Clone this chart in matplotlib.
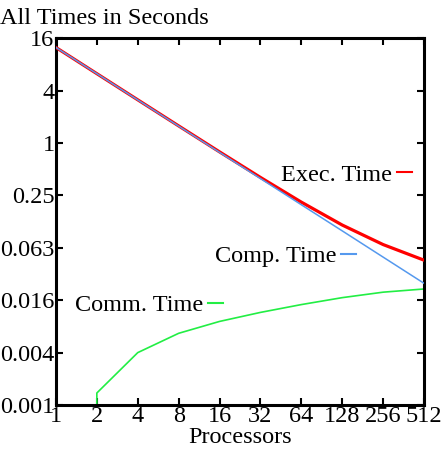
import matplotlib
matplotlib.use('Agg')
import matplotlib.pyplot as plt
from matplotlib.lines import Line2D
from matplotlib.legend import Legend
from matplotlib.ticker import FixedLocator, FixedFormatter, NullLocator

plt.rcParams['font.family'] = ['Liberation Serif', 'DejaVu Serif']

# ── data ────────────────────────────────────────────────────────────────────────
processors = [1, 2, 4, 8, 16, 32, 64, 128, 256, 512]
exec_time  = [12.5, 6.25, 3.13, 1.57, 0.79, 0.402, 0.209, 0.114, 0.068, 0.045]
comp_time  = [12.5, 6.25, 3.12, 1.56, 0.78, 0.39, 0.195, 0.0977, 0.0488, 0.0244]
comm_time  = [0.0, 0.00134, 0.0039, 0.0065, 0.0089, 0.0113, 0.0139, 0.0167, 0.0193, 0.021]

x_ticks  = [1, 2, 4, 8, 16, 32, 64, 128, 256, 512]
y_ticks  = [4.0 ** k for k in range(-5, 3)]
y_labels = ['0.001', '0.004', '0.016', '0.063', '0.25', '1', '4', '16']

RED   = '#ff0000'
BLUE  = '#5599ee'
GREEN = '#22ee44'
FS    = 17.5

fig = plt.figure(figsize=(4.44, 4.54), dpi=100)
ax = fig.add_axes([0.126, 0.108, 0.829, 0.808])

ax.set_xscale('log', base=2)
ax.set_yscale('log', base=4, nonpositive='clip')

l_exec, = ax.plot(processors, exec_time, color=RED, lw=2.3, zorder=3)
l_comp, = ax.plot(processors, comp_time, color=BLUE, lw=1.1, zorder=4)
l_comm, = ax.plot(processors, comm_time, color=GREEN, lw=1.2, zorder=2)

ax.set_xlim(1, 512)
ax.set_ylim(4.0 ** -5, 16)

ax.xaxis.set_major_locator(FixedLocator(x_ticks))
ax.xaxis.set_major_formatter(FixedFormatter([str(t) for t in x_ticks]))
ax.xaxis.set_minor_locator(NullLocator())
ax.yaxis.set_major_locator(FixedLocator(y_ticks))
ax.yaxis.set_major_formatter(FixedFormatter(y_labels))
ax.yaxis.set_minor_locator(NullLocator())

ax.tick_params(which='major', direction='in', length=5, width=1.5,
               top=True, right=True, labelsize=FS, pad=1, colors='black')
for s in ax.spines.values():
    s.set_linewidth(2.2)

ax.set_xlabel('Processors', fontsize=FS, labelpad=0)
fig.text(0.0, 0.948, 'All Times in Seconds', fontsize=FS, ha='left', va='baseline')

# ── key entries (gnuplot style: text then short line) ──────────────────────────
def key(line, label, anchor):
    h = Line2D([], [], color=line.get_color(), lw=1.5)
    lg = Legend(ax, [h], [label], loc='center right', bbox_to_anchor=anchor,
                frameon=False, markerfirst=False, handlelength=0.6,
                handletextpad=0.2, borderpad=0, borderaxespad=0,
                fontsize=FS)
    ax.add_artist(lg)

key(l_exec, 'Exec. Time', (0.967, 0.627))
key(l_comp, 'Comp. Time', (0.815, 0.406))
key(l_comm, 'Comm. Time', (0.454, 0.272))

fig.savefig('out.png', dpi=100)
